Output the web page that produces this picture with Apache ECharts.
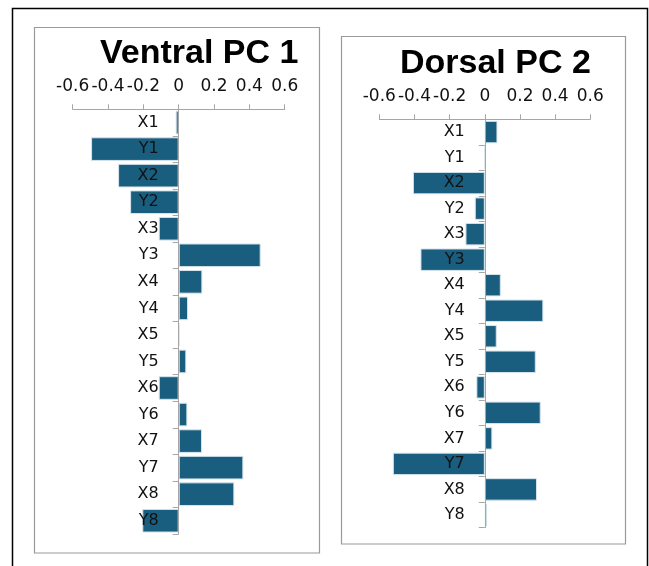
<!DOCTYPE html>
<html>
<head>
<meta charset="utf-8">
<script src="https://cdn.jsdelivr.net/npm/echarts@6/dist/echarts.min.js"></script>
<style>
  html, body { margin: 0; padding: 0; background: #fff; }
  #chart { width: 649px; height: 566px; }
</style>
</head>
<body>
<div id="chart"></div>
<script>
// Loading variables shared by both panels (top to bottom)
const categories = ['X1','Y1','X2','Y2','X3','Y3','X4','Y4','X5','Y5','X6','Y6','X7','Y7','X8','Y8'];

// Ventral PC 1 loadings
const ventralPC1 = [-0.017,-0.496,-0.343,-0.275,-0.113,0.464,0.134,0.053,0.004,0.043,-0.113,0.049,0.132,0.366,0.315,-0.206];

// Dorsal PC 2 loadings
const dorsalPC2 = [0.072,0,-0.409,-0.057,-0.110,-0.366,0.091,0.333,0.068,0.290,-0.048,0.318,0.043,-0.523,0.297,0.013];

const panelTitles = ['Ventral PC 1', 'Dorsal PC 2'];

const barColor = '#1a5e7f';
const axisGray = '#a6a6a6';
const textColor = '#111';
const font = 'DejaVu Sans';

// plot areas; the value axis runs -0.6..0.6 so zero sits at the middle
const grids = [
  { left: 72.7, width: 212, top: 109.3, height: 424.7 },
  { left: 379.3, width: 211, top: 119.3, height: 408.4 }
];

function valueAxis(gridIndex) {
  return {
    type: 'value', gridIndex, position: 'top',
    min: -0.6, max: 0.6, interval: 0.2,
    splitLine: { show: false },
    axisLine: { show: true, lineStyle: { color: axisGray, width: 1 } },
    axisTick: { show: true, length: 5, lineStyle: { color: axisGray } },
    axisLabel: {
      color: textColor, fontFamily: font, fontSize: 17, margin: 14,
      formatter: v => (Math.abs(v) < 1e-9 ? '0' : (+v.toFixed(1)).toString())
    }
  };
}

function categoryAxis(gridIndex) {
  // category labels sit just left of the zero line
  const halfWidth = grids[gridIndex].width / 2;
  return {
    type: 'category', gridIndex, data: categories, inverse: true, z: 5,
    axisLine: { show: true, onZero: true, lineStyle: { color: axisGray, width: 1 } },
    axisTick: { show: true, length: 6, lineStyle: { color: axisGray } },
    axisLabel: { color: textColor, fontFamily: font, fontSize: 16, margin: 20 - halfWidth }
  };
}

function barSeries(i, data, gap) {
  return {
    type: 'bar', xAxisIndex: i, yAxisIndex: i, data,
    barCategoryGap: gap,
    itemStyle: { color: barColor, borderColor: '#d6e4ec', borderWidth: 1 },
    silent: true
  };
}

const chart = echarts.init(document.getElementById('chart'), null, { renderer: 'canvas' });

const titleStyle = { fontFamily: 'Liberation Sans', fontWeight: 'bold', fontSize: 34, color: '#000' };

chart.setOption({
  animation: false,
  backgroundColor: '#fff',
  title: [
    { text: panelTitles[0], left: 100, top: 37, padding: 0, textStyle: titleStyle },
    { text: panelTitles[1], left: 400, top: 47, padding: 0, textStyle: titleStyle }
  ],
  grid: grids.map(g => Object.assign({ containLabel: false }, g)),
  xAxis: [valueAxis(0), valueAxis(1)],
  yAxis: [categoryAxis(0), categoryAxis(1)],
  series: [barSeries(0, ventralPC1, '11%'), barSeries(1, dorsalPC2, '12%')],
  graphic: [
    // outer frame
    { type: 'rect', z: 0, shape: { x: 12.5, y: 8.5, width: 635, height: 600 },
      style: { fill: 'none', stroke: '#000', lineWidth: 1.5 } },
    // panel frames
    { type: 'rect', z: 0, shape: { x: 34.5, y: 27.5, width: 285, height: 525.5 },
      style: { fill: 'none', stroke: '#9a9a9a', lineWidth: 1.2 } },
    { type: 'rect', z: 0, shape: { x: 341.5, y: 36.5, width: 284, height: 507.5 },
      style: { fill: 'none', stroke: '#9a9a9a', lineWidth: 1.2 } }
  ]
});
</script>
</body>
</html>
